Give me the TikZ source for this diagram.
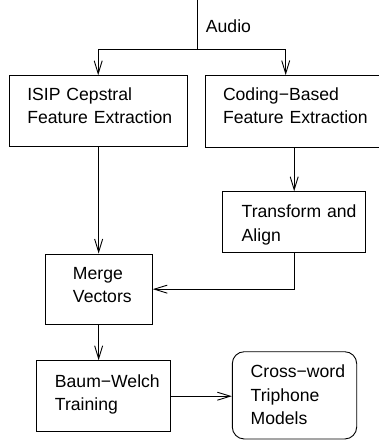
\documentclass[tikz,border=0pt]{standalone}
\usepackage{fontspec}
\setmainfont{Liberation Sans}
\usetikzlibrary{arrows.meta}
\begin{document}
\begin{tikzpicture}[x=1pt,y=-1pt, line width=0.9pt,
  every node/.style={font=\fontsize{17.6}{23.3}\selectfont},
  % box of width #1, first baseline #2 below the top, #3 above the bottom
  flowbox/.style n args={3}{draw, rectangle, inner sep=0pt, text width=#1,
    text height=#2, text depth=#3, align=left},
  inset/.style={execute at begin node={\leftskip=#1\relax}},
  flow/.style={-{Straight Barb[length=13pt,width=8pt]}}]
\clip (0,0) rectangle (379,440);

% processing stages
\node[flowbox={177.7pt}{24.3pt}{46.7pt}, inset=18pt] (isip) at (98.2,111.2)
  {ISIP Cepstral\\Feature Extraction};
\node[flowbox={187pt}{24.5pt}{47pt}, inset=18pt] (coding) at (298.5,111.25)
  {Coding−Based\\Feature Extraction};
\node[flowbox={143pt}{26pt}{35pt}, inset=19pt] (transform) at (294.2,222.2)
  {Transform and\\Align};
\node[flowbox={107.3pt}{25.5pt}{44.8pt}, inset=28pt] (merge) at (98.65,289.15)
  {Merge\\Vectors};
\node[flowbox={133.3pt}{26.6pt}{44.4pt}, inset=18.3pt] (baum) at (103.3,396.2)
  {Baum−Welch\\Training};
\node[flowbox={124.4pt}{26pt}{61.3pt}, inset=18.4pt, rounded corners=12pt] (cross) at (294.5,395.35)
  {Cross−word\\Triphone\\Models};

% audio input
\coordinate (src) at (197,0);
\coordinate (fork) at (197,49);
\node[anchor=west, inner sep=0pt] (audio) at (205.5,26) {Audio};

% connectors
\draw (src) -- (fork);
\draw[flow] (fork) -| (isip.north);
\draw[flow] (fork) -| ([xshift=-12.8pt]coding.north);
\draw[flow] (coding.south -| transform.north) -- (transform.north);
\draw[flow] (isip.south -| merge.north) -- (merge.north);
\draw[flow] (transform.south) |- (merge.east);
\draw[flow] (merge.south) -- (merge.south |- baum.north);
\draw[flow] (baum.east) -- (baum.east -| cross.west);
\end{tikzpicture}
\end{document}
